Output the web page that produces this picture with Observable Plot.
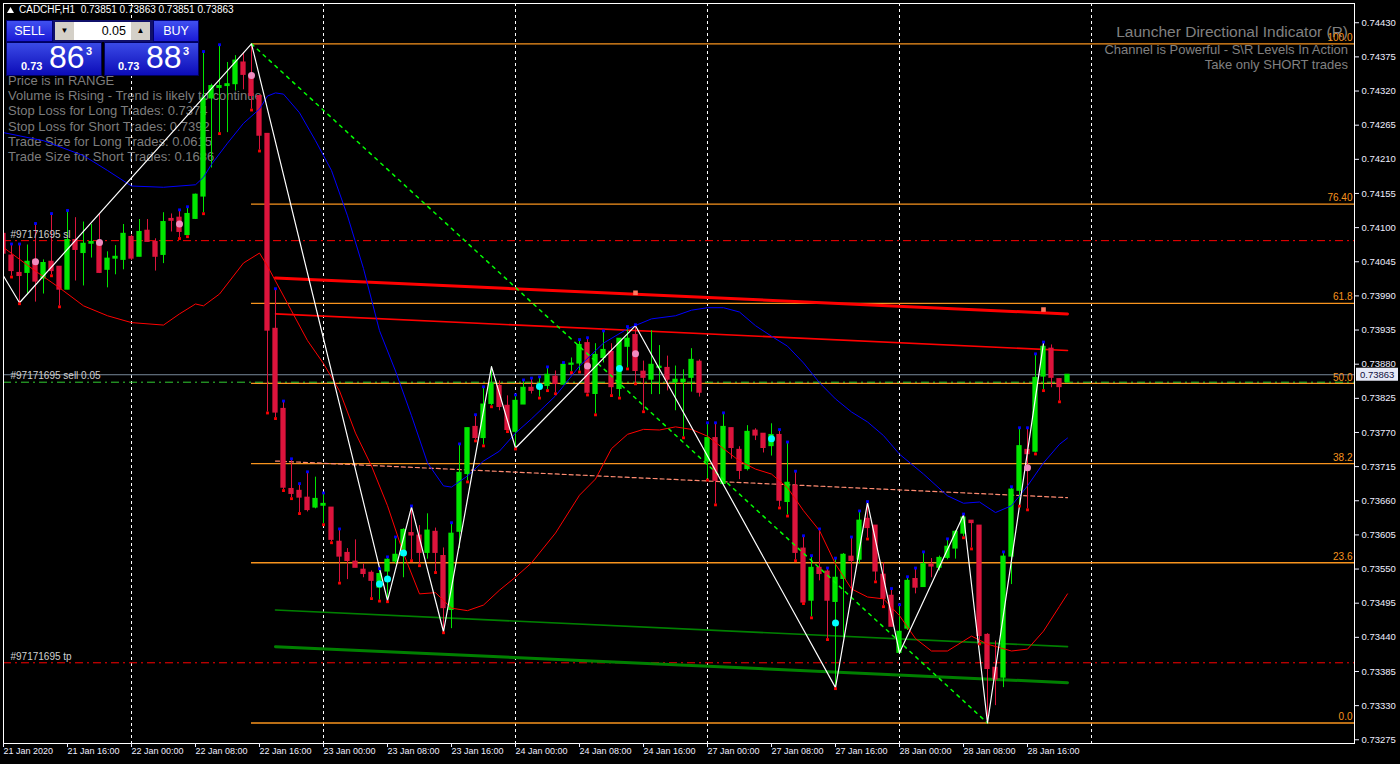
<!DOCTYPE html>
<html><head><meta charset="utf-8">
<script src="https://cdn.jsdelivr.net/npm/d3@7"></script>
<script src="https://cdn.jsdelivr.net/npm/@observablehq/plot@0.6"></script>
<style>
html,body{margin:0;padding:0;background:#000;}
#wrap{position:relative;width:1400px;height:764px;overflow:hidden;background:#000;font-family:"Liberation Sans",Arial,sans-serif;}
#chart{position:absolute;left:0;top:0;z-index:1;}
#info{position:absolute;left:8px;top:73px;z-index:0;color:#7d7d7d;font-size:13px;line-height:15.2px;white-space:nowrap;}
#tr{position:absolute;right:52px;top:22px;z-index:0;color:#808080;text-align:right;white-space:nowrap;}
#tr .t1{font-size:15.5px;line-height:20px;}
#tr .t2{font-size:13px;line-height:15px;}
#hdr{position:absolute;left:7px;top:4px;z-index:2;color:#fff;font-size:10px;line-height:12px;white-space:nowrap;}
.blk{position:absolute;z-index:2;box-sizing:border-box;}
.btn{background:linear-gradient(#4050f0,#1a1ad6);color:#fff;font-size:12.5px;text-align:center;line-height:20px;border:1px solid #000070;}
.px{background:linear-gradient(#3a4ae6,#0c0cb8);border:1px solid #000060;color:#fff;}
.px span{position:absolute;white-space:nowrap;}
.px .s{font-size:11px;line-height:11px;font-weight:bold;}
.px .b{font-size:32px;line-height:32px;}
.px .u{font-size:11px;line-height:11px;font-weight:bold;}
#spin{background:#10106a;}
#spin div{position:absolute;top:2px;height:18px;box-sizing:border-box;}
</style></head><body>
<div id="wrap">
  <div id="info">
    <div>Price is in RANGE</div>
    <div>Volume is Rising - Trend is likely to continue</div>
    <div>Stop Loss for Long Trades: 0.7374</div>
    <div>Stop Loss for Short Trades: 0.7392</div>
    <div>Trade Size for Long Trades: 0.0615</div>
    <div>Trade Size for Short Trades: 0.1686</div>
  </div>
  <div id="tr">
    <div class="t1">Launcher Directional Indicator (R)</div>
    <div class="t2">Channel is Powerful - S\R Levels In Action</div>
    <div class="t2">Take only SHORT trades</div>
  </div>
  <div id="chart"></div>
  <div id="hdr"><svg width="7" height="6" style="margin-right:5px;vertical-align:0px"><polygon points="0,6 3.5,0 7,6" fill="#fff"/></svg>CADCHF,H1&nbsp; 0.73851 0.73863 0.73851 0.73863</div>
  <div class="blk btn" style="left:6px;top:20px;width:47px;height:22px;">SELL</div>
  <div class="blk" id="spin" style="left:53px;top:20px;width:100px;height:22px;">
    <div style="left:2px;width:19px;background:#d4d0c8;color:#000;font-size:8px;text-align:center;line-height:18px;">▼</div>
    <div style="left:21px;width:57px;background:#fff;color:#000;font-size:12.5px;text-align:right;padding-right:5px;line-height:18px;">0.05</div>
    <div style="left:78px;width:19px;background:#d4d0c8;color:#000;font-size:8px;text-align:center;line-height:18px;">▲</div>
  </div>
  <div class="blk btn" style="left:153px;top:20px;width:46px;height:22px;">BUY</div>
  <div class="blk px" style="left:6px;top:42px;width:96px;height:34px;">
    <span class="s" style="left:14px;top:18px;">0.73</span><span class="b" style="left:42px;top:-2px;">86</span><span class="u" style="left:79px;top:3px;">3</span>
  </div>
  <div class="blk px" style="left:104px;top:42px;width:95px;height:34px;">
    <span class="s" style="left:13px;top:18px;">0.73</span><span class="b" style="left:41px;top:-2px;">88</span><span class="u" style="left:78px;top:3px;">3</span>
  </div>
</div>
<script>
// ---- Candles (CADCHF H1), bar 0 = 21 Jan 2020 08:00 ----
const opens = [0.74090,0.74055,0.74027,0.74027,0.74048,0.74018,0.74045,0.74037,0.74000,0.74080,
0.74059,0.74074,0.74077,0.74032,0.74050,0.74048,0.74085,0.74053,0.74095,0.74077,
0.74056,0.74114,0.74116,0.74088,0.74114,0.74150,0.74308,0.74325,0.74328,0.74331,
0.74366,0.74341,0.74312,0.74251,0.73937,0.73808,0.73679,0.73676,0.73665,0.73649,
0.73652,0.73649,0.73594,0.73576,0.73562,0.73549,0.73544,0.73520,0.73546,0.73562,
0.73571,0.73608,0.73604,0.73576,0.73610,0.73571,0.73484,0.73610,0.73703,0.73779,
0.73761,0.73816,0.73845,0.73813,0.73771,0.73815,0.73842,0.73842,0.73845,0.73860,
0.73847,0.73879,0.73881,0.73914,0.73832,0.73890,0.73900,0.73840,0.73908,0.73927,
0.73868,0.73855,0.73874,0.73874,0.73851,0.73851,0.73858,0.73884,0.73723,0.73761,
0.73687,0.73777,0.73742,0.73711,0.73773,0.73768,0.73748,0.73766,0.73658,0.73684,
0.73583,0.73499,0.73552,0.73546,0.73497,0.73534,0.73570,0.73565,0.73631,0.73620,
0.73541,0.73507,0.73415,0.73454,0.73534,0.73521,0.73557,0.73552,0.73568,0.73583,
0.73607,0.73628,0.73620,0.73444,0.73391,0.73375,0.73570,0.73676,0.73742,0.73739,
0.73860,0.73905,0.73856,0.73851];
const highs = [0.74098,0.74072,0.74072,0.74072,0.74105,0.74048,0.74121,0.74037,0.74126,0.74116,
0.74109,0.74105,0.74122,0.74061,0.74071,0.74105,0.74088,0.74113,0.74113,0.74082,
0.74124,0.74122,0.74127,0.74132,0.74154,0.74382,0.74331,0.74393,0.74366,0.74377,
0.74382,0.74396,0.74312,0.74251,0.74000,0.73819,0.73726,0.73686,0.73705,0.73698,
0.73671,0.73649,0.73613,0.73583,0.73597,0.73558,0.73547,0.73549,0.73568,0.73600,
0.73615,0.73650,0.73620,0.73639,0.73616,0.73584,0.73623,0.73750,0.73777,0.73797,
0.73842,0.73876,0.73853,0.73829,0.73829,0.73853,0.73856,0.73858,0.73874,0.73869,
0.73881,0.73890,0.73918,0.73921,0.73913,0.73932,0.73913,0.73921,0.73939,0.73942,
0.73885,0.73934,0.73910,0.73893,0.73877,0.73871,0.73905,0.73887,0.73784,0.73784,
0.73800,0.73777,0.73747,0.73781,0.73776,0.73768,0.73784,0.73773,0.73753,0.73706,
0.73602,0.73570,0.73613,0.73550,0.73566,0.73575,0.73600,0.73642,0.73657,0.73620,
0.73560,0.73517,0.73491,0.73536,0.73550,0.73576,0.73567,0.73571,0.73597,0.73612,
0.73637,0.73628,0.73620,0.73446,0.73434,0.73576,0.73681,0.73776,0.73776,0.73895,
0.73914,0.73911,0.73856,0.73863];
const lows = [0.74043,0.74022,0.73979,0.73993,0.73980,0.73993,0.74024,0.73974,0.74000,0.74014,
0.74006,0.74051,0.74026,0.74003,0.74024,0.74032,0.74047,0.74053,0.74077,0.74030,
0.74042,0.74093,0.74084,0.74087,0.74113,0.74124,0.74196,0.74253,0.74253,0.74320,
0.74322,0.74291,0.74225,0.73803,0.73794,0.73678,0.73665,0.73641,0.73642,0.73647,
0.73623,0.73594,0.73529,0.73533,0.73552,0.73536,0.73504,0.73500,0.73499,0.73558,
0.73536,0.73565,0.73557,0.73566,0.73546,0.73449,0.73454,0.73583,0.73692,0.73758,
0.73750,0.73813,0.73805,0.73773,0.73745,0.73815,0.73832,0.73827,0.73839,0.73834,
0.73847,0.73868,0.73869,0.73832,0.73800,0.73882,0.73831,0.73827,0.73874,0.73850,
0.73805,0.73831,0.73831,0.73837,0.73805,0.73763,0.73835,0.73827,0.73695,0.73655,
0.73687,0.73727,0.73694,0.73708,0.73757,0.73737,0.73732,0.73650,0.73637,0.73565,
0.73496,0.73473,0.73531,0.73438,0.73359,0.73439,0.73504,0.73558,0.73600,0.73531,
0.73491,0.73457,0.73415,0.73451,0.73510,0.73521,0.73536,0.73547,0.73565,0.73566,
0.73602,0.73584,0.73431,0.73302,0.73330,0.73359,0.73525,0.73653,0.73647,0.73737,
0.73839,0.73842,0.73821,0.73851];
const closes = [0.74058,0.74030,0.74022,0.74045,0.74013,0.74043,0.74030,0.74000,0.74080,0.74064,
0.74074,0.74077,0.74027,0.74050,0.74053,0.74090,0.74050,0.74093,0.74077,0.74053,
0.74109,0.74111,0.74093,0.74122,0.74153,0.74308,0.74328,0.74328,0.74331,0.74369,
0.74346,0.74312,0.74248,0.73934,0.73802,0.73681,0.73671,0.73665,0.73645,0.73663,
0.73655,0.73597,0.73570,0.73563,0.73552,0.73542,0.73531,0.73542,0.73565,0.73573,
0.73613,0.73604,0.73576,0.73612,0.73576,0.73487,0.73607,0.73705,0.73777,0.73761,
0.73815,0.73848,0.73811,0.73774,0.73821,0.73842,0.73837,0.73847,0.73863,0.73848,
0.73879,0.73881,0.73911,0.73834,0.73895,0.73903,0.73843,0.73921,0.73921,0.73869,
0.73858,0.73879,0.73876,0.73855,0.73855,0.73855,0.73887,0.73834,0.73761,0.73692,
0.73779,0.73745,0.73708,0.73771,0.73765,0.73745,0.73766,0.73660,0.73689,0.73576,
0.73496,0.73552,0.73542,0.73499,0.73536,0.73573,0.73563,0.73628,0.73616,0.73546,
0.73502,0.73457,0.73449,0.73531,0.73520,0.73558,0.73554,0.73568,0.73586,0.73610,
0.73633,0.73624,0.73442,0.73389,0.73372,0.73570,0.73678,0.73748,0.73735,0.73858,
0.73908,0.73858,0.73843,0.73863];

// ---- Axes ----
const xTickBars = [0,8,16,24,32,40,48,56,64,72,80,88,96,104,112,120,128];
const xTickLabels = ["21 Jan 2020","21 Jan 16:00","22 Jan 00:00","22 Jan 08:00","22 Jan 16:00","23 Jan 00:00","23 Jan 08:00","23 Jan 16:00","24 Jan 00:00","24 Jan 08:00","24 Jan 16:00","27 Jan 00:00","27 Jan 08:00","27 Jan 16:00","28 Jan 00:00","28 Jan 08:00","28 Jan 16:00"];
const daySeparators = [16,40,64,88,112,136];
const yTicks = [0.73275,0.73330,0.73385,0.73440,0.73495,0.73550,0.73605,0.73660,0.73715,0.73770,0.73825,0.73880,0.73935,0.73990,0.74045,0.74100,0.74155,0.74210,0.74265,0.74320,0.74375,0.74430];

// ---- Indicators ----
const blueBars = [0,5,10,13,16,20,24,25,26,28,30,32,33,34,35,37,39,41,43,45,47,49,51,53,55,56,58,60,62,64,66,69,72,75,78,81,84,86,88,90,92,94,96,98,100,102,104,106,108,110,112,115,118,120,122,124,126,128,130,132,133];
const blueVals = [0.74253,0.74240,0.74216,0.74192,0.74167,0.74165,0.74169,0.74181,0.74202,0.74236,0.74268,0.74291,0.74312,0.74317,0.74315,0.74285,0.74240,0.74192,0.74119,0.74034,0.73934,0.73869,0.73797,0.73721,0.73684,0.73682,0.73700,0.73724,0.73740,0.73769,0.73792,0.73829,0.73877,0.73914,0.73937,0.73953,0.73958,0.73967,0.73971,0.73971,0.73964,0.73942,0.73925,0.73909,0.73882,0.73850,0.73824,0.73803,0.73787,0.73765,0.73735,0.73703,0.73668,0.73656,0.73658,0.73641,0.73652,0.73684,0.73721,0.73751,0.73761];
const redBars = [0,4,7,10,13,16,20,22,24,25,27,30,32,33,34,36,38,40,42,44,46,48,50,52,54,56,58,60,62,64,66,69,72,74,76,78,80,82,84,86,88,90,92,94,96,98,100,102,104,106,108,110,112,114,116,118,120,121,123,126,128,130,132,133];
const redVals = [0.74068,0.74030,0.74003,0.73974,0.73958,0.73947,0.73943,0.73961,0.73977,0.73974,0.73993,0.74043,0.74059,0.74038,0.74014,0.73966,0.73918,0.73881,0.73837,0.73769,0.73716,0.73652,0.73575,0.73510,0.73512,0.73487,0.73483,0.73492,0.73516,0.73537,0.73560,0.73608,0.73669,0.73695,0.73744,0.73767,0.73775,0.73774,0.73779,0.73775,0.73764,0.73744,0.73724,0.73711,0.73703,0.73681,0.73644,0.73612,0.73558,0.73518,0.73505,0.73502,0.73475,0.73438,0.73418,0.73418,0.73434,0.73442,0.73429,0.73418,0.73421,0.73450,0.73490,0.73510];
const zigBars = [0,2,31,48,51,55,61,64,79,104,108,112,120,123,130];
const zigVals = [0.74022,0.73979,0.74396,0.73499,0.73650,0.73449,0.73876,0.73745,0.73942,0.73359,0.73657,0.73415,0.73637,0.73302,0.73914];

// Fibonacci retracement
const fibHighBar = 31, fibHigh = 0.74396, fibLowBar = 123, fibLow = 0.73302;
const fibLevels = [100, 76.4, 61.8, 50, 38.2, 23.6, 0];
const fibLabels = ["100.0","76.40","61.8","50.0","38.2","23.6","0.0"];

// Channel lines (start bar, end bar)
const channelBars = [34, 133];
const redThick = [0.74019, 0.73961];
const redThin = [0.73961, 0.73902];
const midDashed = [0.73724, 0.73665];
const greenThin = [0.73484, 0.73425];
const greenThick = [0.73425, 0.73367];

// Orders / price lines
const bidPrice = 0.73863;
const orderOpen = 0.73851;
const stopLoss = 0.74079;
const takeProfit = 0.73399;
const orderLabels = ["#97171695 sl", "#97171695 sell 0.05", "#97171695 tp"];
const orderPrices = [stopLoss, orderOpen, takeProfit];

// Markers
const highMarkBars = [1,2,4,6,8,22,23,25,27,34,35,36,37,38,40,42,47,48,49,51,56,57,59,60,64,65,66,67,68,70,72,73,75,78,79,88,89,90,97,98,99,100,101,102,103,104,106,107,108,111,112,113,114,115,118,120,125,126,127,128,129,130];
const lowMarkBars = [1,2,6,7,22,23,25,27,31,32,33,34,35,36,37,40,41,42,46,47,48,51,52,54,55,58,59,60,61,63,64,67,68,69,71,72,73,74,76,77,78,79,80,85,88,89,97,98,99,100,101,103,104,108,109,110,120,121,122,127,128,129,130,132];
const cyanBars = [47,48,50,67,77,96,104];
const cyanVals = [0.73526,0.73534,0.73576,0.73844,0.73873,0.73760,0.73463];
const pinkBars = [4,12,22,31,73,79,128];
const pinkVals = [0.74045,0.74076,0.74106,0.74345,0.73877,0.73897,0.73713];
const chanMarkBars = [79,130];
const chanMarkVals = [0.73995,0.73968];

const X_MAX = 168.875;
const bull = "#00e600", bear = "#dc143c", orange = "#f7931e";
const font = "'Liberation Sans', Arial, sans-serif";
const candles = opens.map((o, i) => ({i, o, h: highs[i], l: lows[i], c: closes[i]}));
const col = d => (d.c >= d.o ? bull : bear);
const pts = (bars, vals) => bars.map((b, k) => ({i: b, v: vals[k]}));
const fibData = fibLevels.map((lv, k) => ({p: fibLow + (fibHigh - fibLow) * lv / 100, label: fibLabels[k]}));
const ordData = orderPrices.map((p, k) => ({p, t: orderLabels[k]}));

const dashDot = "8,4,2,4";
const plot = Plot.plot({
  width: 1400, height: 764,
  marginLeft: 3, marginRight: 46, marginTop: 3, marginBottom: 21,
  x: {domain: [0, X_MAX]},
  y: {domain: [0.73269, 0.74461]},
  color: {type: "identity"},
  style: {background: "transparent", color: "#fff", fontFamily: font, fontSize: "10px"},
  marks: [
    Plot.ruleX(daySeparators, {x: d => d, stroke: "#fff", strokeDasharray: "3,3"}),
    Plot.ruleY(fibData, {y: "p", x1: () => fibHighBar, x2: () => X_MAX, stroke: orange, strokeWidth: 1.3}),
    Plot.ruleY([stopLoss, takeProfit], {y: d => d, stroke: "#ff0000", strokeDasharray: dashDot}),
    Plot.ruleY([bidPrice], {y: d => d, stroke: "#778899"}),
    Plot.ruleY([orderOpen], {y: d => d, stroke: "#32cd32", strokeDasharray: dashDot}),
    Plot.line(pts(channelBars, redThick), {x: "i", y: "v", stroke: "#ff0000", strokeWidth: 3}),
    Plot.line(pts(channelBars, redThin), {x: "i", y: "v", stroke: "#ff0000", strokeWidth: 1.6}),
    Plot.line(pts(channelBars, midDashed), {x: "i", y: "v", stroke: "#ff8a70", strokeWidth: 1.2, strokeDasharray: "4,3"}),
    Plot.line(pts(channelBars, greenThin), {x: "i", y: "v", stroke: "#008000", strokeWidth: 1.6}),
    Plot.line(pts(channelBars, greenThick), {x: "i", y: "v", stroke: "#008000", strokeWidth: 3}),
    Plot.ruleX(candles, {x: "i", y1: "l", y2: "h", stroke: col, strokeWidth: 1, clip: true}),
    Plot.rect(candles, {x1: d => d.i - 0.33, x2: d => d.i + 0.33, y1: d => Math.min(d.o, d.c), y2: d => Math.max(d.o, d.c), fill: col, insetTop: -0.5, insetBottom: -0.5, clip: true}),
    Plot.line(pts(redBars, redVals), {x: "i", y: "v", stroke: "#ff0000", strokeWidth: 1, clip: true}),
    Plot.line(pts(blueBars, blueVals), {x: "i", y: "v", stroke: "#0000ff", strokeWidth: 1, clip: true}),
    Plot.line([{i: fibHighBar, v: fibHigh}, {i: fibLowBar, v: fibLow}], {x: "i", y: "v", stroke: "#00ff00", strokeDasharray: "3,5"}),
    Plot.line(pts(zigBars, zigVals), {x: "i", y: "v", stroke: "#ffffff", strokeWidth: 1.2, clip: true}),
    Plot.dot(highMarkBars, {x: d => d, y: d => highs[d], symbol: "square", r: 1.6, fill: "#0000ff", dy: -1}),
    Plot.dot(lowMarkBars, {x: d => d, y: d => lows[d], symbol: "square", r: 1.6, fill: "#ff0000", dy: 1}),
    Plot.dot(pts(cyanBars, cyanVals), {x: "i", y: "v", r: 3.5, fill: "#00ffff"}),
    Plot.dot(pts(pinkBars, pinkVals), {x: "i", y: "v", r: 3.5, fill: "#f08cc0"}),
    Plot.dot(pts(chanMarkBars, chanMarkVals), {x: "i", y: "v", symbol: "square", r: 2.6, fill: "#ff7a60"}),
    Plot.text(fibData, {x: () => X_MAX, y: "p", text: "label", textAnchor: "end", dx: -2, dy: -6, fill: orange, fontSize: 10}),
    Plot.text(ordData, {x: () => 0, y: "p", text: "t", textAnchor: "start", dx: 7, dy: -6, fill: "#d0d0d0", fontSize: 10}),
    Plot.frame({stroke: "#ffffff"}),
    Plot.axisY(yTicks, {anchor: "right", tickSize: 4, tickPadding: 3, tickFormat: d3.format(".5f"), label: null, color: "#eeeeff", fontSize: 9.5}),
    Plot.axisX(xTickBars, {anchor: "bottom", tickSize: 4, tickPadding: 0, tickFormat: d => xTickLabels[xTickBars.indexOf(d)], textAnchor: "start", label: null, color: "#eeeeff", fontSize: 9})
  ]
});
document.getElementById("chart").appendChild(plot);

// current bid price box on the price axis
const yScale = plot.scale("y");
const yb = yScale.apply(bidPrice);
const svg = d3.select(plot);
svg.append("rect").attr("x", 1356).attr("y", yb - 6.5).attr("width", 42).attr("height", 13).attr("fill", "#e6e9f6");
svg.append("text").attr("x", 1360).attr("y", yb).attr("dy", "0.35em").attr("text-anchor", "start").attr("fill", "#101040")
  .attr("font-size", 9.5).attr("font-family", font).text(d3.format(".5f")(bidPrice));
</script>
</body></html>
